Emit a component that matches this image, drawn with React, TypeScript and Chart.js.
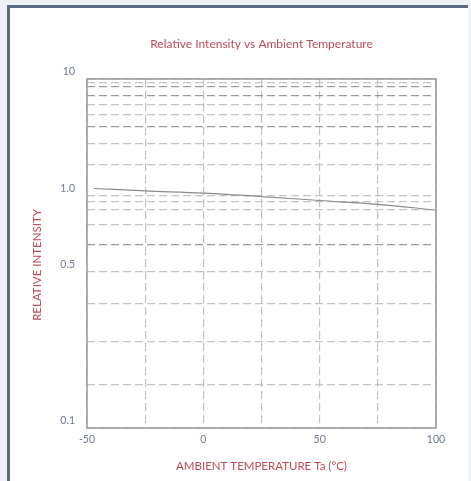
import React, { useEffect, useRef } from 'react';
import { Chart, registerables, LogarithmicScale } from 'chart.js';

// ---- data ----
const temperatures = [-47, -25, 0, 25, 50, 75, 100];
const relativeIntensity = [1.18, 1.12, 1.066, 0.99, 0.92, 0.867, 0.8];

// ---- axis ticks ----
const xGridValues = [-50, -25, 0, 25, 50, 75, 100];
const xLabeledValues = [-50, 0, 50, 100];
const xTickLabels = ['-50', '0', '50', '100'];

const yGridValues = [10, 9, 8, 7, 6, 5, 4, 3, 2, 1, 0.9, 0.8, 0.7, 0.6, 0.5, 0.4, 0.3, 0.2, 0.1];
const yLabeledValues = [10, 1, 0.5, 0.1];
const yTickLabels = ['10', '1.0', '0.5', '0.1'];
const yDarkGridValues = [8, 7, 4, 0.6];

// calibration of the printed chart's uneven logarithmic grid (fraction of axis from top)
const yCalibrationFractions = [
  0, 0.0106, 0.0221, 0.0467, 0.0725, 0.1011, 0.1367, 0.1862, 0.2456, 0.3352,
  0.3516, 0.3754, 0.4163, 0.4756, 0.5521, 0.6427, 0.7527, 0.8748, 1,
];

const calLogs = yGridValues.map((v) => Math.log10(v));

function fractionFromTop(v: number): number {
  const lv = Math.log10(v);
  const n = calLogs.length;
  for (let i = 0; i < n - 1; i++) {
    const a = calLogs[i];
    const b = calLogs[i + 1];
    if ((lv <= a && lv >= b) || (i === 0 && lv > a) || (i === n - 2 && lv < b)) {
      const t = (a - lv) / (a - b);
      return yCalibrationFractions[i] + t * (yCalibrationFractions[i + 1] - yCalibrationFractions[i]);
    }
  }
  return 1;
}

function valueFromFraction(f: number): number {
  const n = yCalibrationFractions.length;
  for (let i = 0; i < n - 1; i++) {
    const a = yCalibrationFractions[i];
    const b = yCalibrationFractions[i + 1];
    if ((f >= a && f <= b) || (i === 0 && f < a) || (i === n - 2 && f > b)) {
      const t = (f - a) / (b - a);
      return Math.pow(10, calLogs[i] + t * (calLogs[i + 1] - calLogs[i]));
    }
  }
  return yGridValues[n - 1];
}

class CalibratedLogScale extends LogarithmicScale {
  static id = 'calibratedLog';
  static defaults = {};
  getPixelForValue(value: any) {
    let v = value;
    if (v === undefined || v === null || !(v > 0)) v = (this as any).min;
    return (this as any).getPixelForDecimal(1 - fractionFromTop(v));
  }
  getValueForPixel(pixel: number) {
    return valueFromFraction(1 - (this as any).getDecimalForPixel(pixel));
  }
}

Chart.register(...registerables, CalibratedLogScale as any);

const FONT = 'Lato, "Open Sans", "DejaVu Sans", sans-serif';
const RED = '#bb4a53';
const TICK = '#6d7a92';

const areaBorder = {
  id: 'areaBorder',
  afterDatasetsDraw(chart: any) {
    const { ctx, chartArea } = chart;
    ctx.save();
    ctx.strokeStyle = '#9d9d9d';
    ctx.lineWidth = 1.6;
    ctx.strokeRect(chartArea.left, chartArea.top, chartArea.right - chartArea.left, chartArea.bottom - chartArea.top);
    ctx.restore();
  },
};

export default function App() {
  const canvasRef = useRef<HTMLCanvasElement | null>(null);

  useEffect(() => {
    if (!canvasRef.current) return;
    const chart = new Chart(canvasRef.current, {
      type: 'line',
      data: {
        datasets: [
          {
            data: temperatures.map((t, i) => ({ x: t, y: relativeIntensity[i] })),
            borderColor: '#8a8a8a',
            borderWidth: 1.2,
            pointRadius: 0,
            tension: 0.35,
            fill: false,
          },
        ],
      },
      options: {
        animation: false,
        responsive: false,
        layout: { padding: { left: 0, right: 35, top: 0, bottom: 0 } },
        plugins: {
          legend: { display: false },
          tooltip: { enabled: false },
          title: {
            display: true,
            text: 'Relative Intensity vs Ambient Temperature',
            fullSize: false,
            color: RED,
            font: { family: FONT, size: 12, weight: 'normal' },
            padding: { top: 36.8, bottom: 27.8 },
          },
        },
        scales: {
          x: {
            type: 'linear',
            min: -50,
            max: 100,
            afterBuildTicks: (s: any) => {
              s.ticks = xGridValues.map((v) => ({ value: v }));
            },
            afterFit: (s: any) => {
              s.height = 53;
            },
            grid: { color: '#c0c0c0', lineWidth: 1.2, drawTicks: false },
            border: { display: false, dash: [8, 4] },
            ticks: {
              autoSkip: false,
              maxRotation: 0,
              padding: 5,
              color: TICK,
              font: { family: FONT, size: 10.5 },
              callback: (v: any) => {
                const i = xLabeledValues.indexOf(Number(v));
                return i >= 0 ? xTickLabels[i] : '';
              },
            },
            title: {
              display: true,
              text: 'AMBIENT TEMPERATURE Ta (°C)',
              color: RED,
              font: { family: FONT, size: 11.5 },
              padding: { top: 0, bottom: 7.8 },
            },
          },
          y: {
            type: 'calibratedLog' as any,
            min: 0.1,
            max: 10,
            afterBuildTicks: (s: any) => {
              s.ticks = yGridValues.map((v) => ({ value: v }));
            },
            afterFit: (s: any) => {
              s.width = 87;
            },
            grid: {
              color: (ctx: any) =>
                ctx.tick && yDarkGridValues.includes(ctx.tick.value) ? '#9a9a9a' : '#c4c4c4',
              lineWidth: 1.2,
              drawTicks: false,
            },
            border: { display: false, dash: [8, 4] },
            ticks: {
              autoSkip: false,
              padding: 12,
              labelOffset: -7,
              color: TICK,
              font: { family: FONT, size: 10.5 },
              callback: (v: any) => {
                const i = yLabeledValues.findIndex((lv) => Math.abs(lv - Number(v)) < 1e-9);
                return i >= 0 ? yTickLabels[i] : '';
              },
            },
            title: {
              display: true,
              text: 'RELATIVE INTENSITY\u2002\u2002\u2002\u2002',
              color: RED,
              font: { family: FONT, size: 11.5 },
              padding: { top: 30, bottom: 0 },
            },
          },
        },
      } as any,
      plugins: [areaBorder],
    });
    return () => chart.destroy();
  }, []);

  return (
    <div
      style={{
        position: 'fixed',
        left: 0,
        top: 0,
        width: 471,
        height: 481,
        background: '#eef1f5',
        overflow: 'hidden',
      }}
    >
      <div
        style={{
          position: 'absolute',
          left: 7,
          top: 5,
          right: 3,
          bottom: 0,
          background: '#ffffff',
          borderLeft: '3px solid #5b6a86',
          borderTop: '3px solid #5b6a86',
        }}
      />
      <canvas
        ref={canvasRef}
        width={471}
        height={481}
        style={{ position: 'absolute', left: 0, top: 0, width: 471, height: 481 }}
      />
    </div>
  );
}
